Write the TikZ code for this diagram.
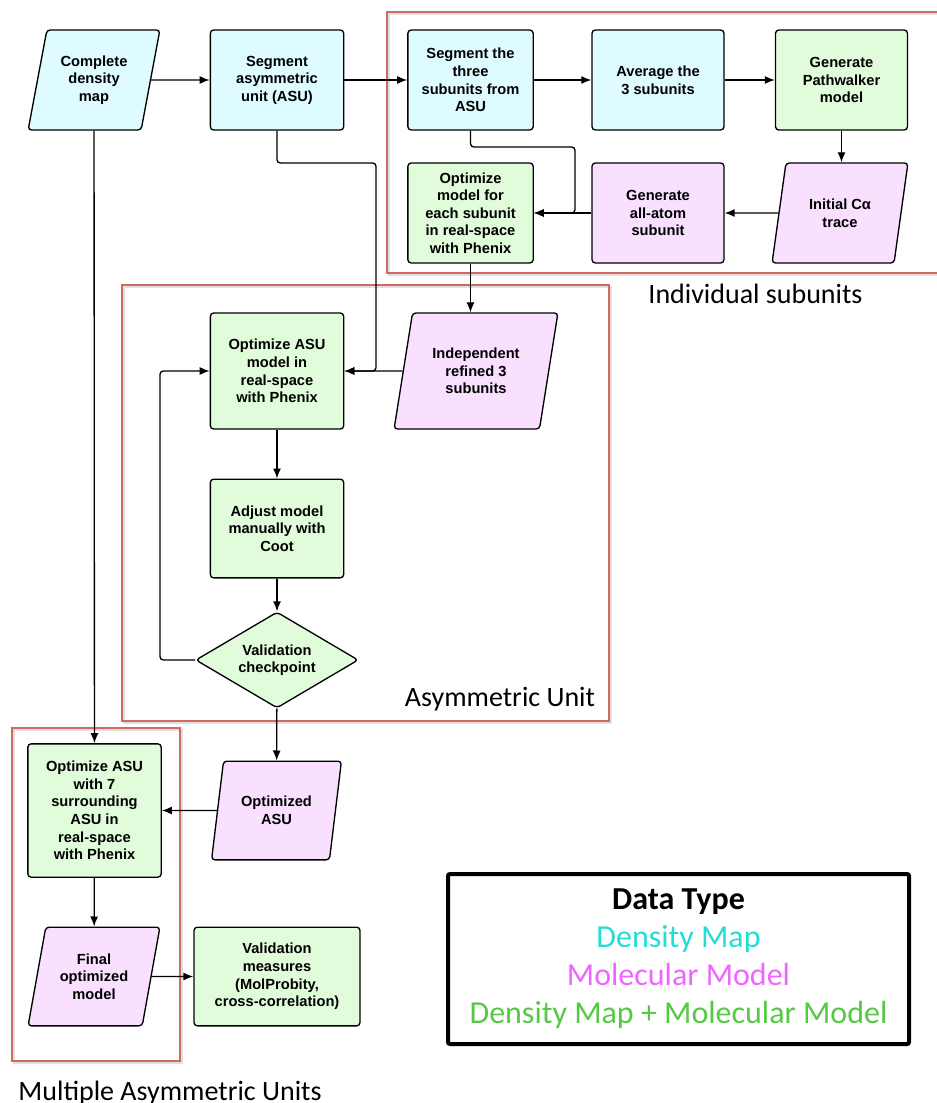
\documentclass[tikz,border=0pt]{standalone}
\usepackage{fontspec}
\setmainfont{Liberation Sans}
\newfontfamily\calibri{Carlito}
\usetikzlibrary{shapes.geometric,arrows.meta}
\definecolor{mapfill}{HTML}{DEFCFF}
\definecolor{modelfill}{HTML}{F9E0FF}
\definecolor{bothfill}{HTML}{E1FCDB}
\definecolor{groupred}{HTML}{D2685F}
\definecolor{mapcol}{HTML}{22DDD6}
\definecolor{modelcol}{HTML}{EE66FF}
\definecolor{bothcol}{HTML}{55C944}

\begin{document}
\begin{tikzpicture}[x=0.75pt,y=-0.75pt]
\path[use as bounding box] (0,0) rectangle (937,1103);
\tikzstyle{box}=[draw=black, rounded corners=2.5pt, line width=1pt, align=center, inner sep=1pt, font=\fontsize{11}{13.2}\selectfont\bfseries]
\tikzstyle{proc}=[box, rectangle, minimum width=100pt, minimum height=75pt]
\tikzstyle{data}=[box, trapezium, trapezium left angle=75, trapezium right angle=105, trapezium stretches=true, minimum width=99pt, minimum height=75pt]
\tikzstyle{check}=[box, diamond, aspect=1.7, inner sep=0pt, minimum width=122pt, minimum height=72pt]
\tikzstyle{flow}=[-{Latex[length=7.5pt,width=6pt]}, line width=1pt, rounded corners=2.5pt]
\tikzstyle{group}=[draw=groupred, line width=2.2pt]
\tikzstyle{groupshadow}=[draw=black!12, line width=2.2pt]
\tikzstyle{grouplabel}=[anchor=base, inner sep=0pt, font=\calibri\fontsize{21}{24}\selectfont]

% groups
\draw[groupshadow] (389,14) rectangle (947,275);
\draw[groupshadow] (124,287) rectangle (611,723);
\draw[groupshadow] (14,730) rectangle (182,1063);
\draw[group] (387,12) rectangle (945,273);
\draw[group] (122,285) rectangle (609,721);
\draw[group] (12,728) rectangle (180,1061);
\node[grouplabel] (lsub) at (755.5,303) {Individual subunits};
\node[grouplabel] (lasu) at (500,706) {Asymmetric Unit};
\node[grouplabel] (lmulti) at (170,1100) {Multiple Asymmetric Units};

% top row
\node[data, fill=mapfill] (cdm) at (94,80) {Complete\\density\\map};
\node[proc, fill=mapfill] (segasu) at (277,80) {Segment\\asymmetric\\unit (ASU)};
\node[proc, fill=mapfill, minimum width=94pt] (segthree) at (470.5,80) {Segment the\\three\\subunits from\\ASU};
\node[proc, fill=mapfill, minimum width=99pt] (avg) at (658,80) {Average the\\3 subunits};
\node[proc, fill=bothfill, minimum width=99pt] (pathw) at (841.5,80) {Generate\\Pathwalker\\model};

% second row
\node[data, fill=modelfill, minimum width=102pt] (trace) at (840,213) {Initial Cα\\trace};
\node[proc, fill=modelfill, minimum width=99pt] (allatom) at (658,213) {Generate\\all-atom\\subunit};
\node[proc, fill=bothfill, minimum width=94pt] (optsub) at (470.5,213) {Optimize\\model for\\each subunit\\in real-space\\with Phenix};

% asymmetric unit
\node[proc, fill=bothfill, minimum height=87pt] (optasu) at (277,371) {Optimize ASU\\model in\\real-space\\with Phenix};
\node[data, fill=modelfill, minimum width=123pt, minimum height=87pt] (indep) at (476,371) {Independent\\refined 3\\subunits};
\node[proc, fill=bothfill, minimum height=74pt] (adjust) at (277,528.5) {Adjust model\\manually with\\Coot};
\node[check, fill=bothfill] (valid) at (277,660) {Validation\\checkpoint};

% multiple asymmetric units
\node[proc, fill=bothfill, minimum height=100pt] (surr) at (94.5,810.5) {Optimize ASU\\with 7\\surrounding\\ASU in\\real-space\\with Phenix};
\node[data, fill=modelfill, minimum width=98pt, minimum height=74pt] (optasub) at (276.5,810.5) {Optimized\\ASU};
\node[data, fill=modelfill, minimum height=74pt] (final) at (94,976.5) {Final\\optimized\\model};
\node[proc, fill=bothfill, minimum width=124.5pt, minimum height=74pt] (valmeas) at (277,976.5) {Validation\\measures\\(MolProbity,\\cross-correlation)};

% legend
\node[draw=black, line width=3pt, rounded corners=1.5pt, minimum width=345.75pt, minimum height=127.5pt, align=center, font=\calibri\fontsize{24}{28.5}\selectfont] (key) at (678.5,959) {{\bfseries Data Type}\\\textcolor{mapcol}{Density Map}\\\textcolor{modelcol}{Molecular Model}\\\textcolor{bothcol}{Density Map + Molecular Model}};

% bends
\coordinate (jA) at (376,163);
\coordinate (jB) at (575,147);
\coordinate (jC) at (160,371);

% connectors
\draw[flow] (cdm) -- (segasu);
\draw[flow] (segasu) -- (segthree);
\draw[flow] (segthree) -- (avg);
\draw[flow] (avg) -- (pathw);
\draw[flow] (pathw.south) -- (pathw.south |- trace.north);
\draw[flow] (trace) -- (allatom);
\draw[flow] (allatom) -- (optsub);
\draw[flow] (segthree.south) |- (jB) |- (optsub.east);
\draw[flow] (optsub.south) -- (optsub.south |- indep.north);
\draw[flow] (segasu.south) |- (jA) |- (optasu.east);
\draw[flow] (indep) -- (optasu);
\draw[flow] (optasu) -- (adjust);
\draw[flow] (adjust) -- (valid);
\draw[flow] (valid.west) -| (jC) -- (optasu.west);
\draw[flow] (valid) -- (optasub);
\draw[flow] (optasub) -- (surr);
\draw[flow] (cdm) -- (surr);
\draw[flow] (surr) -- (final);
\draw[flow] (final) -- (valmeas);
\end{tikzpicture}
\end{document}
